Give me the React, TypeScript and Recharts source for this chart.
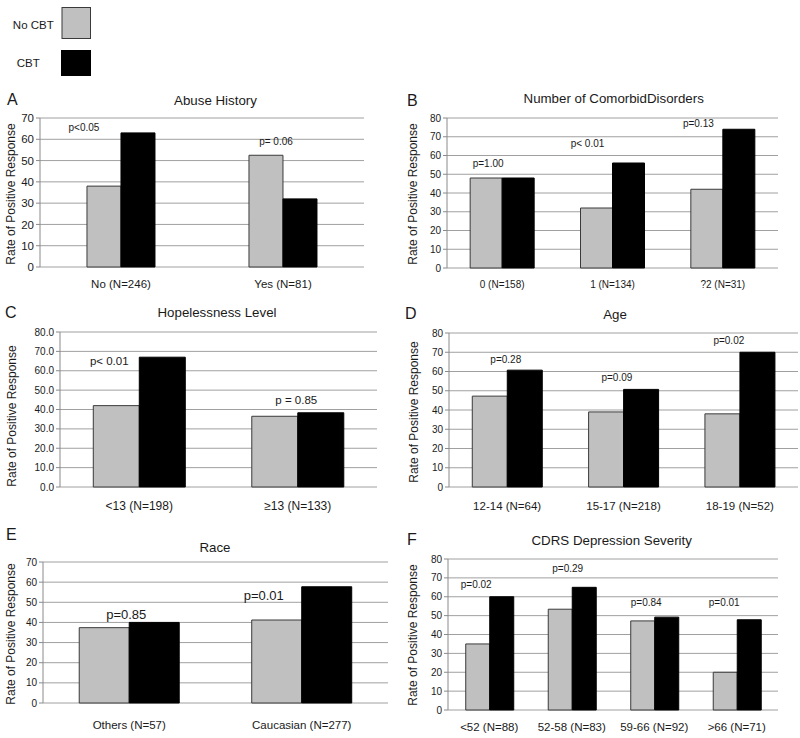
import React from 'react';
import { BarChart, Bar, XAxis, YAxis, CartesianGrid, ReferenceDot } from 'recharts';

// ---- Panel A: Abuse History ----
const abuseCategories = ['No (N=246)', 'Yes (N=81)'];
const abuseNoCBT = [38, 52.5];
const abuseCBT = [63, 32];
const abusePValues = ['p<0.05', 'p= 0.06'];
const abuseYTicks = [0, 10, 20, 30, 40, 50, 60, 70];

// ---- Panel B: Number of Comorbid Disorders ----
const comorbidCategories = ['0 (N=158)', '1 (N=134)', '?2 (N=31)'];
const comorbidNoCBT = [48, 32, 42];
const comorbidCBT = [48, 56, 74];
const comorbidPValues = ['p=1.00', 'p< 0.01', 'p=0.13'];
const comorbidYTicks = [0, 10, 20, 30, 40, 50, 60, 70, 80];

// ---- Panel C: Hopelessness Level ----
const hopelessCategories = ['<13 (N=198)', '\u226513 (N=133)'];
const hopelessNoCBT = [42, 36.5];
const hopelessCBT = [67, 38.3];
const hopelessPValues = ['p< 0.01', 'p = 0.85'];
const hopelessYTicks = [0, 10, 20, 30, 40, 50, 60, 70, 80];

// ---- Panel D: Age ----
const ageCategories = ['12-14 (N=64)', '15-17 (N=218)', '18-19 (N=52)'];
const ageNoCBT = [47.2, 39, 38];
const ageCBT = [60.7, 50.7, 70];
const agePValues = ['p=0.28', 'p=0.09', 'p=0.02'];
const ageYTicks = [0, 10, 20, 30, 40, 50, 60, 70, 80];

// ---- Panel E: Race ----
const raceCategories = ['Others (N=57)', 'Caucasian (N=277)'];
const raceNoCBT = [37.4, 41.2];
const raceCBT = [40, 57.7];
const racePValues = ['p=0.85', 'p=0.01'];
const raceYTicks = [0, 10, 20, 30, 40, 50, 60, 70];

// ---- Panel F: CDRS Depression Severity ----
const cdrsCategories = ['<52 (N=88)', '52-58 (N=83)', '59-66 (N=92)', '>66 (N=71)'];
const cdrsNoCBT = [35, 53.4, 47.2, 20];
const cdrsCBT = [60, 65, 49.2, 47.8];
const cdrsPValues = ['p=0.02', 'p=0.29', 'p=0.84', 'p=0.01'];
const cdrsYTicks = [0, 10, 20, 30, 40, 50, 60, 70, 80];

const seriesNames = ['No CBT', 'CBT'];

const TEXT = '#1a1a1a';
const GRID = '#a0a0a0';
const AXIS = '#8a8a8a';
const GRAY_FILL = '#c0c0c0';
const GRAY_STROKE = '#3a3a3a';
const FONT = '"Liberation Sans", Arial, Helvetica, sans-serif';

type PanelCfg = {
  letter: string;
  title: string;
  categories: string[];
  noCbt: number[];
  cbt: number[];
  pValues: string[];
  yTicks: number[];
  decimals: number;
  left: number;
  top: number;
  width: number;
  height: number;
  margin: { top: number; right: number; bottom: number; left: number };
  yWidth: number;
  xHeight: number;
  xOffset: number;
  yFont: number;
  xFont: number;
  pFont: number;
  gap: string;
  pPos: [number, number][];
  letterPos: [number, number];
  titlePos: [number, number];
  yLabelPos: [number, number];
};

const panels: PanelCfg[] = [
  {
    letter: 'A', title: 'Abuse History',
    categories: abuseCategories, noCbt: abuseNoCBT, cbt: abuseCBT, pValues: abusePValues, yTicks: abuseYTicks, decimals: 0,
    left: 0, top: 80, width: 400, height: 220, margin: { top: 38, right: 36, bottom: 3, left: 0 },
    yWidth: 40, xHeight: 30, xOffset: 12.5, yFont: 11.5, xFont: 11.5, pFont: 10, gap: '29%',
    pPos: [[-37, 65.4], [-7, 58.8]],
    letterPos: [7, 99.5], titlePos: [215.5, 100], yLabelPos: [11, 194],
  },
  {
    letter: 'B', title: 'Number of ComorbidDisorders',
    categories: comorbidCategories, noCbt: comorbidNoCBT, cbt: comorbidCBT, pValues: comorbidPValues, yTicks: comorbidYTicks, decimals: 0,
    left: 400, top: 80, width: 400, height: 220, margin: { top: 38, right: 22, bottom: 2, left: 0 },
    yWidth: 47, xHeight: 30, xOffset: 13, yFont: 10, xFont: 10, pFont: 10, gap: '21%',
    pPos: [[-14, 55.6], [-25, 66.3], [-24.5, 77]],
    letterPos: [407, 100], titlePos: [613.7, 98.5], yLabelPos: [413, 194],
  },
  {
    letter: 'C', title: 'Hopelessness Level',
    categories: hopelessCategories, noCbt: hopelessNoCBT, cbt: hopelessCBT, pValues: hopelessPValues, yTicks: hopelessYTicks, decimals: 1,
    left: 0, top: 300, width: 400, height: 220, margin: { top: 32, right: 23, bottom: 3, left: 0 },
    yWidth: 60, xHeight: 30, xOffset: 14.4, yFont: 10, xFont: 12, pFont: 11.5, gap: '21%',
    pPos: [[-30, 65.1], [-1.5, 44.9]],
    letterPos: [5, 312.5], titlePos: [217, 312.5], yLabelPos: [12, 416],
  },
  {
    letter: 'D', title: 'Age',
    categories: ageCategories, noCbt: ageNoCBT, cbt: ageCBT, pValues: agePValues, yTicks: ageYTicks, decimals: 0,
    left: 400, top: 300, width: 400, height: 220, margin: { top: 33, right: 2, bottom: 3, left: 0 },
    yWidth: 49, xHeight: 30, xOffset: 15.3, yFont: 10, xFont: 11.5, pFont: 10, gap: '20%',
    pPos: [[-1.4, 66.4], [-6.6, 56.7], [-11, 75.9]],
    letterPos: [405, 313.5], titlePos: [615, 314], yLabelPos: [414, 412],
  },
  {
    letter: 'E', title: 'Race',
    categories: raceCategories, noCbt: raceNoCBT, cbt: raceCBT, pValues: racePValues, yTicks: raceYTicks, decimals: 0,
    left: 0, top: 520, width: 400, height: 218, margin: { top: 42, right: 12, bottom: 5, left: 0 },
    yWidth: 43, xHeight: 30, xOffset: 17.5, yFont: 10, xFont: 11.5, pFont: 13, gap: '21%',
    pPos: [[-3, 44.1], [-38, 53.5]],
    letterPos: [6, 534.5], titlePos: [215, 547.5], yLabelPos: [11, 634],
  },
  {
    letter: 'F', title: 'CDRS Depression Severity',
    categories: cdrsCategories, noCbt: cdrsNoCBT, cbt: cdrsCBT, pValues: cdrsPValues, yTicks: cdrsYTicks, decimals: 0,
    left: 400, top: 520, width: 400, height: 218, margin: { top: 39, right: 22, bottom: 3, left: 0 },
    yWidth: 48, xHeight: 25, xOffset: 12.5, yFont: 10, xFont: 11.5, pFont: 10, gap: '21.5%',
    pPos: [[-13, 66.3], [-4, 75.2], [-8, 57], [-12.5, 57]],
    letterPos: [407, 539.5], titlePos: [611.7, 540], yLabelPos: [413, 635],
  },
];

const makePLabel = (text: string, dx: number, fontSize: number) => (props: any) => {
  const vb = (props && props.viewBox) || {};
  const x = (vb.x ?? 0) + (vb.width ?? 0) / 2 + dx;
  const y = (vb.y ?? 0) + (vb.height ?? 0) / 2;
  return (
    <text x={x} y={y} textAnchor="middle" dominantBaseline="central" fontSize={fontSize} fill={TEXT} fontFamily={FONT}>
      {text}
    </text>
  );
};

function Panel({ cfg }: { cfg: PanelCfg }) {
  const data = cfg.categories.map((c, i) => ({ cat: c, noCbt: cfg.noCbt[i], cbt: cfg.cbt[i] }));
  const n = cfg.categories.length;
  const boundaryTicks = Array.from({ length: n + 1 }, (_, i) => i);
  const yMax = cfg.yTicks[cfg.yTicks.length - 1];
  return (
    <div style={{ position: 'absolute', left: cfg.left, top: cfg.top }}>
      <BarChart
        width={cfg.width}
        height={cfg.height}
        data={data}
        margin={cfg.margin}
        barCategoryGap={cfg.gap}
        barGap={0}
      >
        <CartesianGrid horizontal vertical={false} stroke={GRID} xAxisId="c" yAxisId="l" />
        <XAxis
          xAxisId="t"
          type="number"
          domain={[0, n]}
          ticks={boundaryTicks}
          allowDataOverflow
          tick={false}
          tickSize={4}
          tickLine={{ stroke: AXIS }}
          axisLine={{ stroke: AXIS }}
          height={0}
        />
        <XAxis
          xAxisId="c"
          dataKey="cat"
          type="category"
          axisLine={false}
          tickLine={false}
          tickSize={0}
          tickMargin={cfg.xOffset}
          height={cfg.xHeight}
          interval={0}
          tick={{ fontSize: cfg.xFont, fill: TEXT, fontFamily: FONT }}
        />
        <YAxis
          yAxisId="l"
          domain={[0, yMax]}
          ticks={cfg.yTicks}
          interval={0}
          width={cfg.yWidth}
          tickSize={4}
          tickMargin={2}
          tickFormatter={(v: number) => v.toFixed(cfg.decimals)}
          axisLine={{ stroke: AXIS }}
          tickLine={{ stroke: AXIS }}
          tick={{ fontSize: cfg.yFont, fill: TEXT, fontFamily: FONT }}
        />
        <YAxis
          yAxisId="r"
          orientation="right"
          width={0}
          tick={false}
          tickLine={false}
          axisLine={{ stroke: GRID }}
        />
        <Bar
          xAxisId="c"
          yAxisId="l"
          dataKey="noCbt"
          name={seriesNames[0]}
          fill={GRAY_FILL}
          stroke={GRAY_STROKE}
          strokeWidth={1}
          isAnimationActive={false}
        />
        <Bar
          xAxisId="c"
          yAxisId="l"
          dataKey="cbt"
          name={seriesNames[1]}
          fill="#000000"
          stroke="#000000"
          strokeWidth={1}
          isAnimationActive={false}
        />
        {cfg.pValues.map((p, i) => (
          <ReferenceDot
            key={`p-${i}`}
            xAxisId="c"
            yAxisId="l"
            x={cfg.categories[i]}
            y={cfg.pPos[i][1]}
            r={0}
            fill="none"
            stroke="none"
            ifOverflow="visible"
            label={makePLabel(p, cfg.pPos[i][0], cfg.pFont)}
          />
        ))}
      </BarChart>
    </div>
  );
}

export default function App() {
  return (
    <div
      style={{
        position: 'absolute',
        left: 0,
        top: 0,
        width: 800,
        height: 738,
        background: '#ffffff',
        fontFamily: FONT,
        overflow: 'hidden',
      }}
    >
      {panels.map((cfg) => (
        <Panel key={cfg.letter} cfg={cfg} />
      ))}
      <svg
        width={800}
        height={738}
        style={{ position: 'absolute', left: 0, top: 0, pointerEvents: 'none' }}
        fontFamily={FONT}
      >
        {/* legend */}
        <text x={33.3} y={25} textAnchor="middle" dominantBaseline="central" fontSize={11.5} fill={TEXT}>
          {seriesNames[0]}
        </text>
        <rect x={62} y={7.5} width={28.5} height={31} fill={GRAY_FILL} stroke={GRAY_STROKE} strokeWidth={1} />
        <text x={28.3} y={62.5} textAnchor="middle" dominantBaseline="central" fontSize={11.5} fill={TEXT}>
          {seriesNames[1]}
        </text>
        <rect x={61} y={50} width={30} height={26} fill="#000000" />
        {panels.map((cfg) => (
          <g key={`t-${cfg.letter}`}>
            <text x={cfg.letterPos[0]} y={cfg.letterPos[1]} dominantBaseline="central" fontSize={16} fill={TEXT}>
              {cfg.letter}
            </text>
            <text x={cfg.titlePos[0]} y={cfg.titlePos[1]} textAnchor="middle" dominantBaseline="central" fontSize={13.3} fill={TEXT}>
              {cfg.title}
            </text>
            <text
              x={cfg.yLabelPos[0]}
              y={cfg.yLabelPos[1]}
              textAnchor="middle"
              dominantBaseline="central"
              fontSize={12}
              fill={TEXT}
              transform={`rotate(-90 ${cfg.yLabelPos[0]} ${cfg.yLabelPos[1]})`}
            >
              Rate of Positive Response
            </text>
          </g>
        ))}
      </svg>
    </div>
  );
}
